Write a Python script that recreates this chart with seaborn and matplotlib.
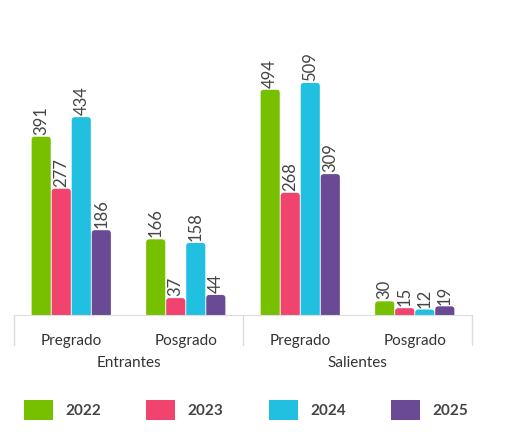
import numpy as np
import pandas as pd
import seaborn as sns
from matplotlib import pyplot as plt
from matplotlib.patches import FancyBboxPatch, Patch

groups = ["Entrantes", "Entrantes", "Salientes", "Salientes"]
levels = ["Pregrado", "Posgrado", "Pregrado", "Posgrado"]
years = ["2022", "2023", "2024", "2025"]
v2022 = [391, 166, 494, 30]
v2023 = [277, 37, 268, 15]
v2024 = [434, 158, 509, 12]
v2025 = [186, 44, 309, 19]
colors = ["#76c000", "#f0436e", "#22c0e0", "#6a4a94"]

cats = [g + "\n" + l for g, l in zip(groups, levels)]
rows = []
for y, vals in zip(years, [v2022, v2023, v2024, v2025]):
    for c, v in zip(cats, vals):
        rows.append({"cat": c, "year": y, "value": v})
df = pd.DataFrame(rows)

sns.set_style("white")
plt.rcParams["font.family"] = ["Lato", "DejaVu Sans"]

fig = plt.figure(figsize=(5.07, 4.37), dpi=100)
ax = fig.add_axes([14 / 507, 122 / 437, 458 / 507, 295 / 437])
sns.barplot(data=df, x="cat", y="value", hue="year", palette=colors,
            width=0.7, ax=ax, legend=False, saturation=1)
ax.set_ylim(0, 647)
ax.set_xlim(-0.5, 3.5)

# rounded tops
asp = (647 / 295) / (4 / 458)
for p in list(ax.patches):
    x, w, h = p.get_x(), p.get_width(), p.get_height()
    fc = p.get_facecolor()
    p.remove()
    r = FancyBboxPatch((x + 0.004, -15), w - 0.008, h + 15,
                       boxstyle="round,pad=0,rounding_size=0.028",
                       mutation_aspect=asp, fc=fc, ec="none", clip_on=True)
    ax.add_patch(r)
    ax.text(x + w / 2, h + 4, str(int(h)), rotation=90, ha="center",
            va="bottom", fontsize=12, color="#444444")

for s in ["top", "right", "left"]:
    ax.spines[s].set_visible(False)
ax.spines["bottom"].set_color("#dddddd")
ax.set_yticks([])
ax.set_xticks(range(4))
ax.set_xticklabels(levels, fontsize=11, color="#333333")
ax.tick_params(axis="x", length=0, pad=14)
ax.set_xlabel("")
ax.set_ylabel("")
for xv in [-0.5, 1.5, 3.5]:
    ax.plot([xv, xv], [0, -65], color="#dddddd", lw=1, clip_on=False)
ax.text(0.5, -105, "Entrantes", ha="center", va="center", fontsize=11, color="#333333")
ax.text(2.5, -105, "Salientes", ha="center", va="center", fontsize=11, color="#333333")

handles = [Patch(facecolor=c, edgecolor="none") for c in colors]
leg = fig.legend(handles, years, loc="center left", ncol=4,
                 bbox_to_anchor=(0.02, 27 / 437, 0.93, 0.001), mode="expand",
                 frameon=False, handlelength=1.9, handleheight=1.6,
                 prop={"weight": "bold", "size": 11})
for t in leg.get_texts():
    t.set_color("#444444")

fig.savefig("out.png", dpi=100)
plt.close(fig)
